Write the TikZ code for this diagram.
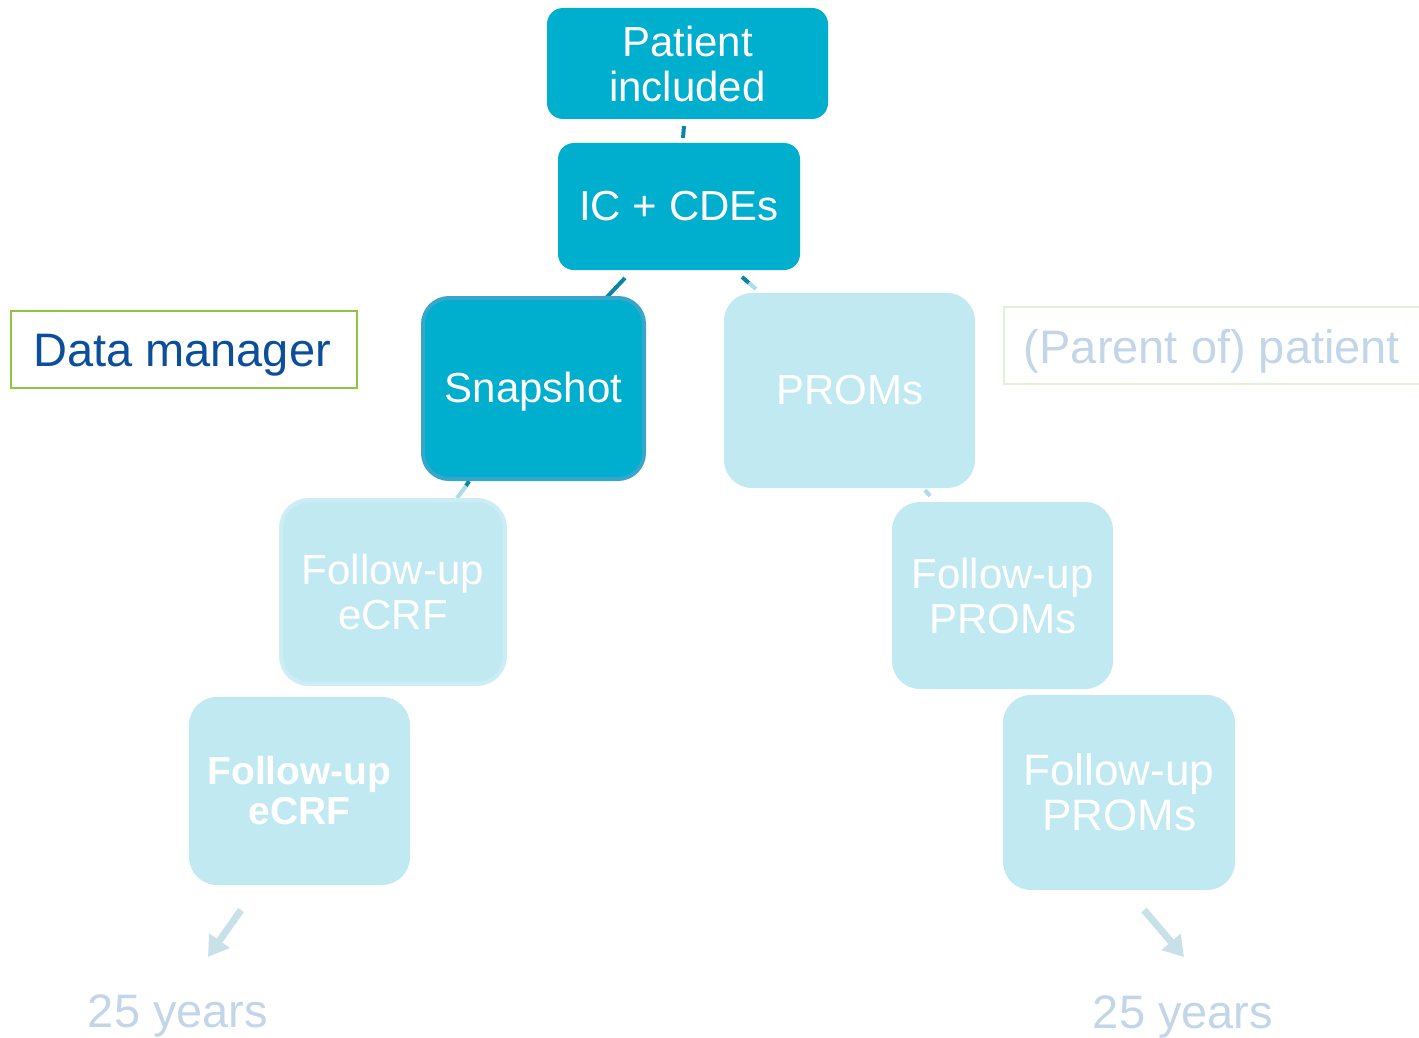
\documentclass[tikz,border=0pt]{standalone}
\usepackage{fontspec}
\setmainfont{Liberation Sans}
\usetikzlibrary{arrows.meta}
\definecolor{dark}{HTML}{00AECE}
\definecolor{darkline}{HTML}{0B86A0}
\definecolor{light}{HTML}{C1E9F1}
\definecolor{lightline}{HTML}{A9DDEA}
\definecolor{snapborder}{HTML}{38A6CA}
\definecolor{ecrfborder}{HTML}{CDEDF5}
\definecolor{dmblue}{HTML}{0B4F9C}
\definecolor{dmgreen}{HTML}{8DC63F}
\definecolor{palegreen}{HTML}{E2F1D4}
\definecolor{paleblue}{HTML}{C3D6E9}
\definecolor{arrowc}{HTML}{C8E1E8}
\tikzset{
  box/.style={inner sep=0pt, align=center, text=white, font=\fontsize{42}{45}\selectfont},
  darkbox/.style={box, fill=dark, rounded corners=16pt},
  lightbox/.style={box, fill=light, rounded corners=28pt},
  labelbox/.style={inner sep=0pt, font=\fontsize{47}{50}\selectfont},
  stub/.style={line width=4pt},
  bigarrow/.style={line width=7pt, color=arrowc, -{Triangle[width=24pt,length=20pt]}},
}
\newcommand{\lowered}[2]{\raisebox{-#1}[\height][\depth]{#2}}
\begin{document}
\begin{tikzpicture}[x=1pt,y=-1pt]
\useasboundingbox (0,0) rectangle (1419,1038);
% connectors (stubs)
\coordinate (s1a) at (684,126); \coordinate (s1b) at (683,138);
\draw[stub, darkline] (s1a) -- (s1b);
\coordinate (s2a) at (625,278); \coordinate (s2b) at (607,297);
\draw[stub, darkline] (s2a) -- (s2b);
\coordinate (s3a) at (742,277); \coordinate (s3b) at (749,283); \coordinate (s3c) at (756,289);
\draw[stub, darkline] (s3a) -- (s3b);
\draw[stub, lightline] (s3b) -- (s3c);
\coordinate (s4a) at (469,481); \coordinate (s4b) at (466,486); \coordinate (s4c) at (457,498);
\draw[stub, darkline] (s4a) -- (s4b);
\draw[stub, lightline] (s4b) -- (s4c);
\coordinate (s5a) at (925,490); \coordinate (s5b) at (930,496);
\draw[stub, lightline] (s5a) -- (s5b);
% boxes
\node[darkbox, minimum width=281pt, minimum height=111pt] (pi) at (687.5,63.5) {Patient\\included};
\node[darkbox, minimum width=242pt, minimum height=127pt] (ic) at (679,206.5) {IC + CDEs};
\node[darkbox, draw=snapborder, line width=4pt, rounded corners=26pt, minimum width=221pt, minimum height=181pt] (snap) at (533.5,388.5) {\lowered{3pt}{Snapshot}};
\node[lightbox, minimum width=251pt, minimum height=195pt] (proms) at (849.5,390.5) {PROMs};
\node[lightbox, draw=ecrfborder, line width=4pt, minimum width=224pt, minimum height=184pt] (fe1) at (393,592) {Follow-up\\eCRF};
\node[lightbox, minimum width=221pt, minimum height=188pt, font=\fontsize{39}{40}\selectfont\bfseries] (fe2) at (299.5,791) {Follow-up\\eCRF};
\node[lightbox, minimum width=221pt, minimum height=187pt] (fp1) at (1002.5,595.5) {Follow-up\\PROMs};
\node[lightbox, minimum width=232pt, minimum height=195pt, font=\fontsize{44}{45}\selectfont] (fp2) at (1119,792.5) {Follow-up\\PROMs};
% role labels
\node[labelbox, draw=dmgreen, line width=2pt, text=dmblue, minimum width=346pt, minimum height=77pt] (dm) at (184,349.5) {\lowered{6pt}{\hspace*{-4pt}Data manager}};
\node[labelbox, draw=palegreen, line width=2pt, text=paleblue, minimum width=430pt, minimum height=77pt, anchor=west] (pp) at (1003,345.5) {\lowered{6pt}{\hspace*{-8pt}(Parent of) patient\hspace*{6pt}}};
% end arrows
\coordinate (la) at (241,910); \coordinate (lb) at (208,957);
\draw[bigarrow] (la) -- (lb);
\coordinate (ra) at (1144,910); \coordinate (rb) at (1184,957);
\draw[bigarrow] (ra) -- (rb);
\node[labelbox, text=paleblue] (ly) at (178,1016) {25 years};
\node[labelbox, text=paleblue] (ry) at (1183,1017) {25 years};
\end{tikzpicture}
\end{document}
